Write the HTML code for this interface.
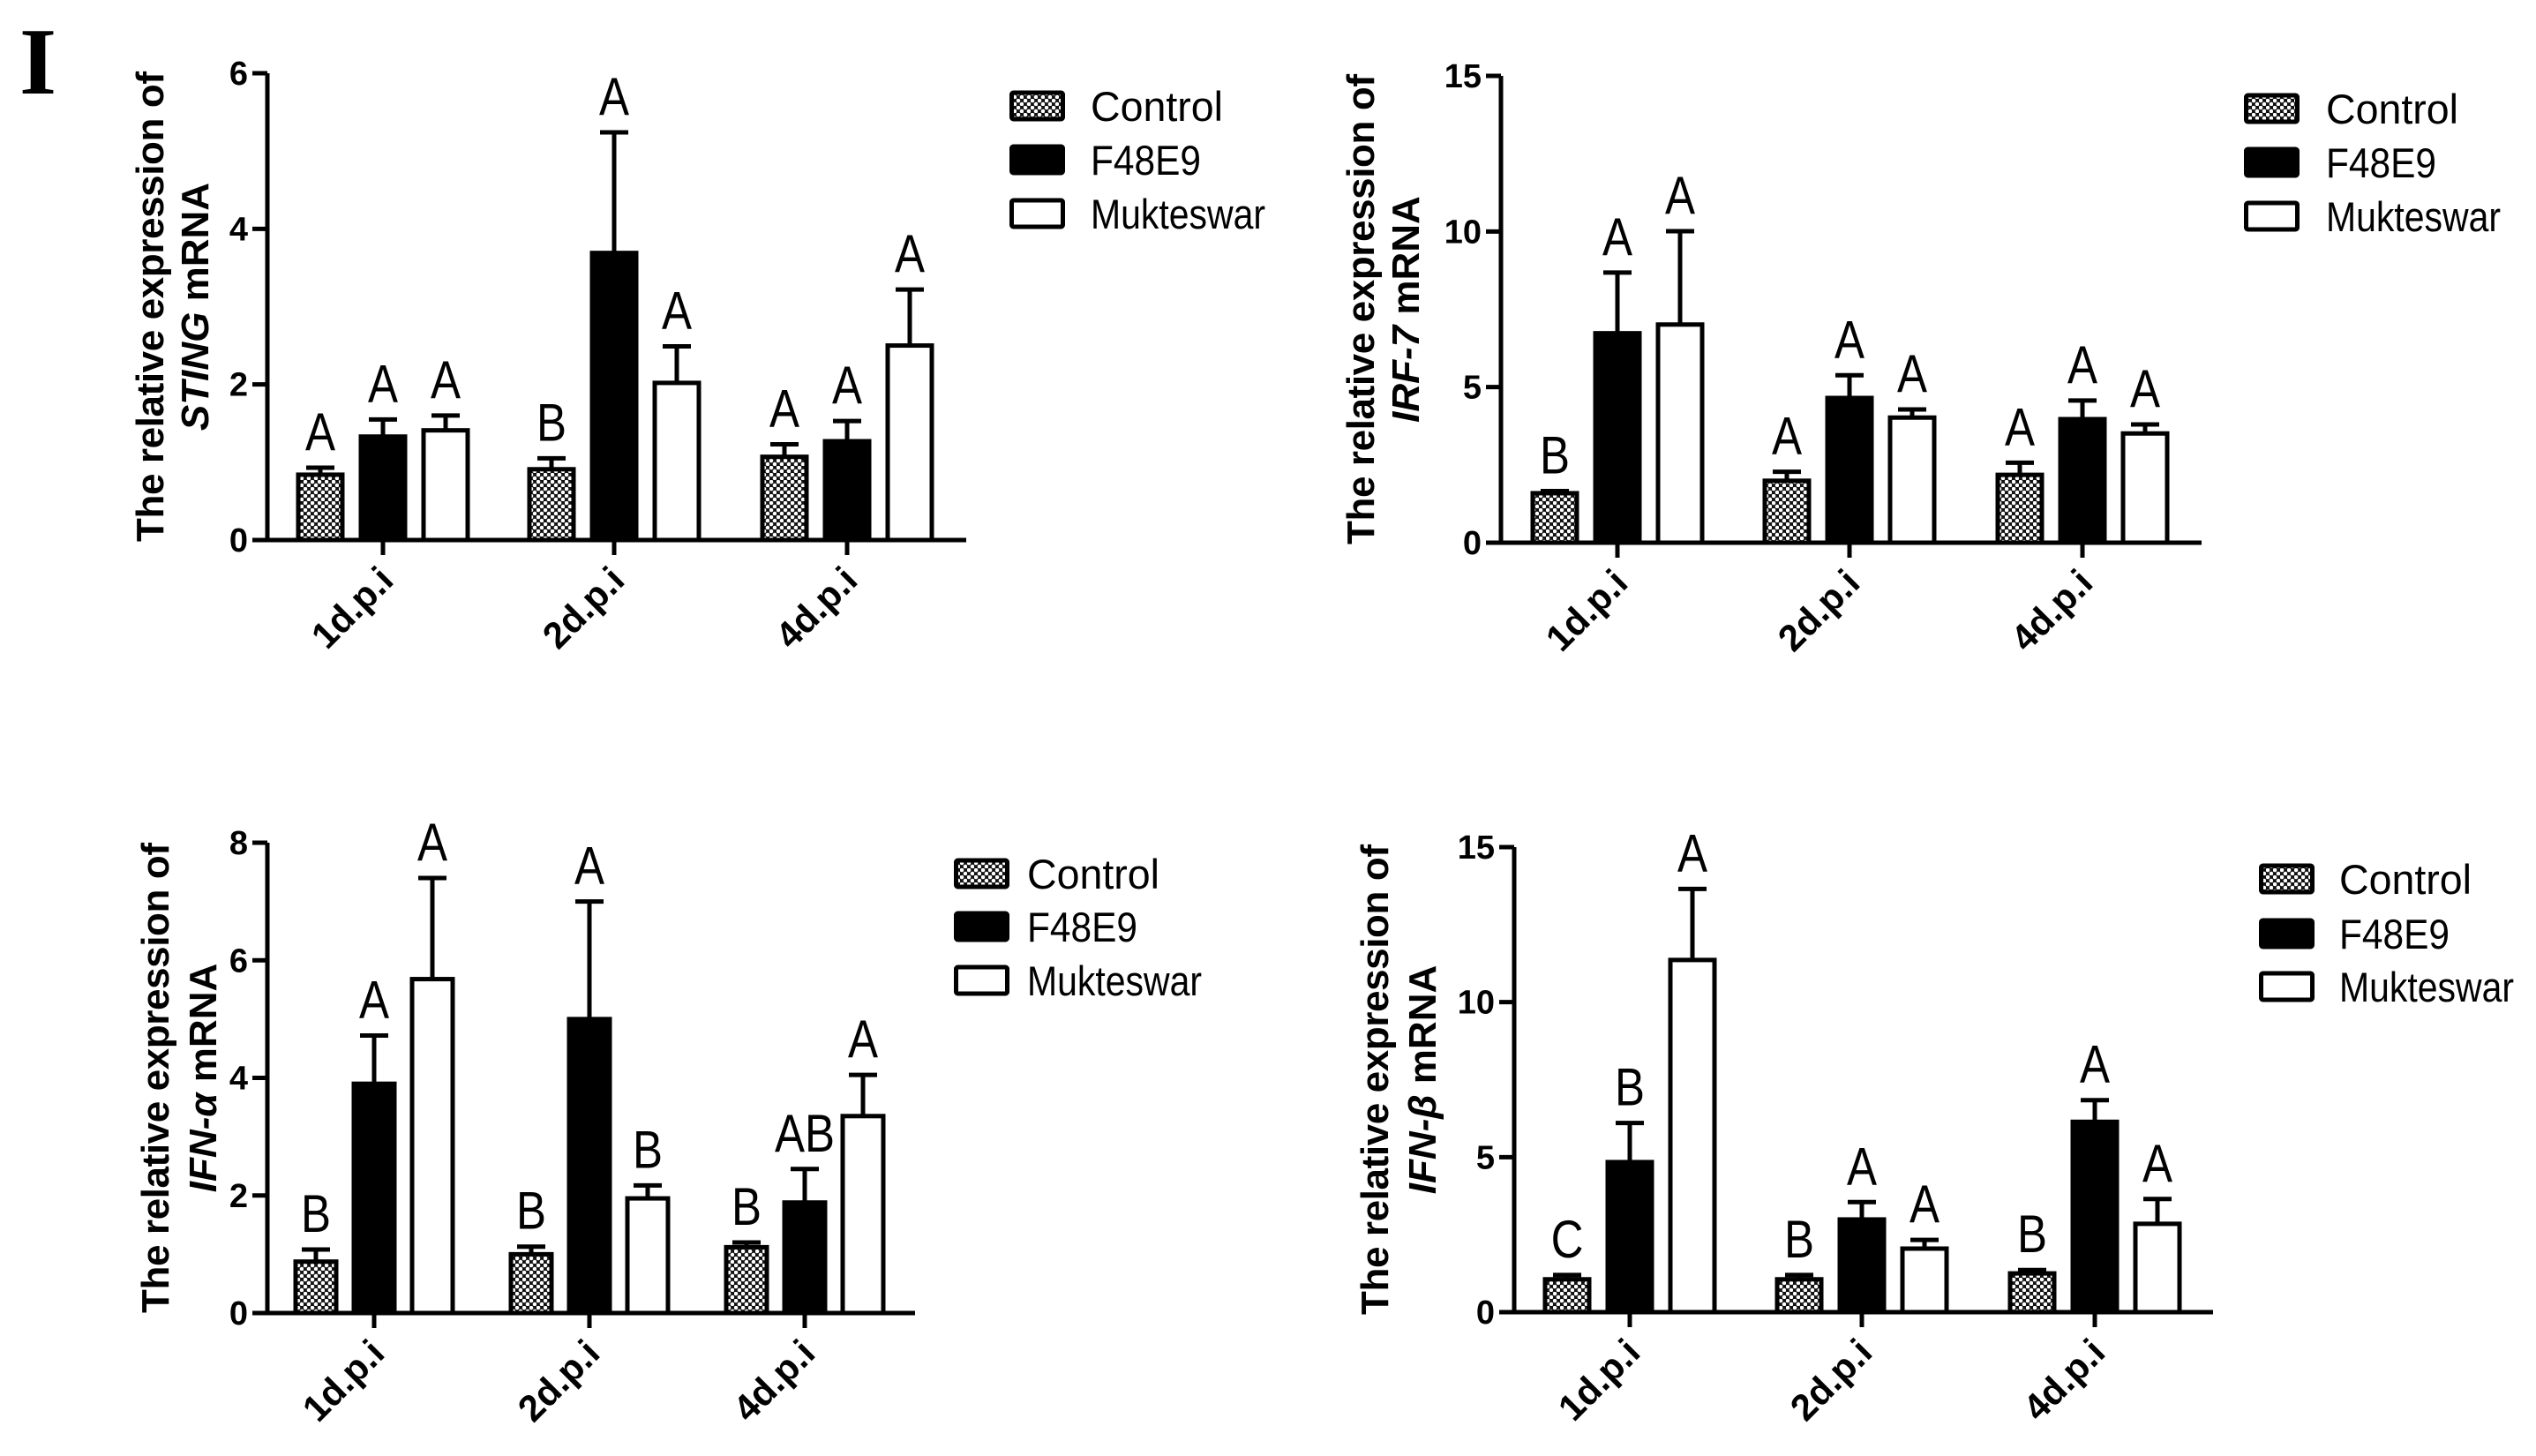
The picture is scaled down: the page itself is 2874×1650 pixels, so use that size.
<!DOCTYPE html>
<html><head><meta charset="utf-8"><style>
html,body{margin:0;padding:0;background:#fff;}
svg{display:block;font-family:"Liberation Sans",sans-serif;}
</style></head><body>
<svg id="fig" width="2874" height="1650" viewBox="0 0 2874 1650" xmlns="http://www.w3.org/2000/svg">
<defs>
<pattern id="dots" width="8" height="8" patternUnits="userSpaceOnUse">
<rect width="8" height="8" fill="#111"/>
<circle cx="2" cy="2" r="2.3" fill="#fff"/>
<circle cx="6" cy="6" r="2.3" fill="#fff"/>
</pattern>
</defs>
<text x="22" y="106" font-family="Liberation Serif, serif" font-weight="bold" font-size="108">I</text>
</svg>
<script>
const categories = ["1d.p.i", "2d.p.i", "4d.p.i"];
const seriesNames = ["Control", "F48E9", "Mukteswar"];
const genes = ["STING", "IRF-7", "IFN-α", "IFN-β"];
const stingMean = [[0.84, 1.33, 1.41], [0.91, 3.69, 2.02], [1.07, 1.27, 2.50]];
const stingErr  = [[0.93, 1.55, 1.60], [1.05, 5.24, 2.49], [1.23, 1.53, 3.22]];
const stingSig  = [["A","A","A"], ["B","A","A"], ["A","A","A"]];
const irf7Mean = [[1.59, 6.73, 7.01], [1.99, 4.65, 4.02], [2.18, 3.97, 3.51]];
const irf7Err  = [[1.66, 8.68, 10.01], [2.28, 5.38, 4.28], [2.57, 4.57, 3.80]];
const irf7Sig  = [["B","A","A"], ["A","A","A"], ["A","A","A"]];
const ifnaMean = [[0.875, 3.90, 5.68], [1.00, 5.00, 1.95], [1.12, 1.88, 3.35]];
const ifnaErr  = [[1.08, 4.72, 7.40], [1.13, 7.00, 2.17], [1.20, 2.45, 4.05]];
const ifnaSig  = [["B","A","A"], ["B","A","B"], ["B","AB","A"]];
const ifnbMean = [[1.06, 4.84, 11.36], [1.06, 2.99, 2.05], [1.25, 6.14, 2.85]];
const ifnbErr  = [[1.20, 6.10, 13.65], [1.20, 3.55, 2.33], [1.36, 6.84, 3.65]];
const ifnbSig  = [["C","B","A"], ["B","A","A"], ["B","A","A"]];
const ticks6 = [0, 2, 4, 6];
const ticks15 = [0, 5, 10, 15];
const ticks8 = [0, 2, 4, 6, 8];

const NS = "http://www.w3.org/2000/svg";
const svg = document.getElementById("fig");
function mk(tag, attrs, parent) {
  const e = document.createElementNS(NS, tag);
  for (const k in attrs) e.setAttribute(k, attrs[k]);
  (parent || svg).appendChild(e);
  return e;
}
const fills = ["url(#dots)", "#000", "#fff"];

const panels = [
  {gene: genes[0], mean: stingMean, err: stingErr, sig: stingSig, ticks: ticks6, ymax: 6,
   ax: 303, y0: 612, ytop: 83, groups: [434, 696, 960], step: 71, bw: 50, xend: 1095,
   lab1: 170, lab2: 221, legX: 1144, legY: [120, 181, 242], legTx: 1236},
  {gene: genes[1], mean: irf7Mean, err: irf7Err, sig: irf7Sig, ticks: ticks15, ymax: 15,
   ax: 1701, y0: 615, ytop: 86, groups: [1833, 2096, 2360], step: 71, bw: 50, xend: 2495,
   lab1: 1542, lab2: 1593, legX: 2543, legY: [123, 184, 245], legTx: 2636},
  {gene: genes[2], mean: ifnaMean, err: ifnaErr, sig: ifnaSig, ticks: ticks8, ymax: 8,
   ax: 303, y0: 1488, ytop: 955, groups: [424, 668, 912], step: 66, bw: 46, xend: 1037,
   lab1: 176, lab2: 230, legX: 1081, legY: [990, 1050, 1111], legTx: 1164},
  {gene: genes[3], mean: ifnbMean, err: ifnbErr, sig: ifnbSig, ticks: ticks15, ymax: 15,
   ax: 1716, y0: 1487, ytop: 960, groups: [1847, 2110, 2374], step: 71, bw: 50, xend: 2508,
   lab1: 1558, lab2: 1612, legX: 2560, legY: [996, 1058, 1118], legTx: 2651}
];

panels.forEach((p, pi) => {
  const g = mk("g", {});
  
  
  const yS = v => p.y0 - (v / p.ymax) * (p.y0 - p.ytop);

  p.groups.forEach((gx, ci) => {
    for (let s = 0; s < 3; s++) {
      const cx = gx + (s - 1) * p.step;
      const top = yS(p.mean[ci][s]);
      const et = yS(p.err[ci][s]);
      const bar = mk("rect", {x: cx - p.bw / 2, y: top, width: p.bw, height: p.y0 - top,
        fill: fills[s], stroke: "#000", "stroke-width": 5}, g);
      
      
      const eb = mk("path", {d: `M${cx} ${top} V${et} M${cx - 16} ${et} H${cx + 16}`,
        stroke: "#000", "stroke-width": 5, fill: "none"}, g);
      
      
      const t = mk("text", {x: 0, y: 0, "text-anchor": "middle", "font-size": 60,
        transform: `translate(${cx},${et - 20}) scale(0.85,1)`}, g);
      t.textContent = p.sig[ci][s];
      
      
    }
  });

  const yAxis = mk("path", {d: `M${p.ax} ${p.ytop} V${p.y0}`, stroke: "#000", "stroke-width": 5, fill: "none"}, g);
  
  
  const xAxis = mk("path", {d: `M${p.ax - 17} ${p.y0} H${p.xend}`, stroke: "#000", "stroke-width": 5, fill: "none"}, g);
  
  
  p.ticks.forEach(v => {
    const y = yS(v);
    mk("path", {d: `M${p.ax - 17} ${y} H${p.ax}`, stroke: "#000", "stroke-width": 5}, g);
    const t = mk("text", {x: p.ax - 22, y: y + 13, "text-anchor": "end", "font-size": 38, "font-weight": "bold"}, g);
    t.textContent = v;
    
    
  });
  p.groups.forEach((gx, ci) => {
    mk("path", {d: `M${gx} ${p.y0} V${p.y0 + 17}`, stroke: "#000", "stroke-width": 5}, g);
    const t = mk("text", {x: 0, y: 0, "text-anchor": "end", "font-size": 42, "font-weight": "bold",
      transform: `translate(${gx + 14},${p.y0 + 48}) rotate(-45)`}, g);
    t.textContent = categories[ci];
    
    
  });

  const cy = (p.ytop + p.y0) / 2;
  const t1 = mk("text", {x: 0, y: 0, "text-anchor": "middle", "font-size": 44, "font-weight": "bold",
    textLength: 533, lengthAdjust: "spacing",
    transform: `translate(${p.lab1 + 15},${cy}) rotate(-90)`}, g);
  t1.textContent = "The relative expression of";
  
  
  const t2 = mk("text", {x: 0, y: 0, "text-anchor": "middle", "font-size": 44, "font-weight": "bold",
    transform: `translate(${p.lab2 + 15},${cy}) rotate(-90)`}, g);
  const ts = mk("tspan", {"font-style": "italic"}, t2);
  ts.textContent = p.gene;
  const ts2 = mk("tspan", {}, t2);
  ts2.textContent = " mRNA";
  
  

  seriesNames.forEach((n, s) => {
    const ly = p.legY[s];
    const lg = mk("g", {}, g);
    
    
    mk("rect", {x: p.legX + 2.5, y: ly - 15, width: 58, height: 30, fill: fills[s], stroke: "#000", "stroke-width": 5, rx: 2}, lg);
    const lt = mk("text", {x: p.legTx, y: ly + 17, "font-size": 47, textLength: [150, 125, 198][s], lengthAdjust: "spacingAndGlyphs"}, lg);
    lt.textContent = n;
  });
});
</script>
</body></html>
